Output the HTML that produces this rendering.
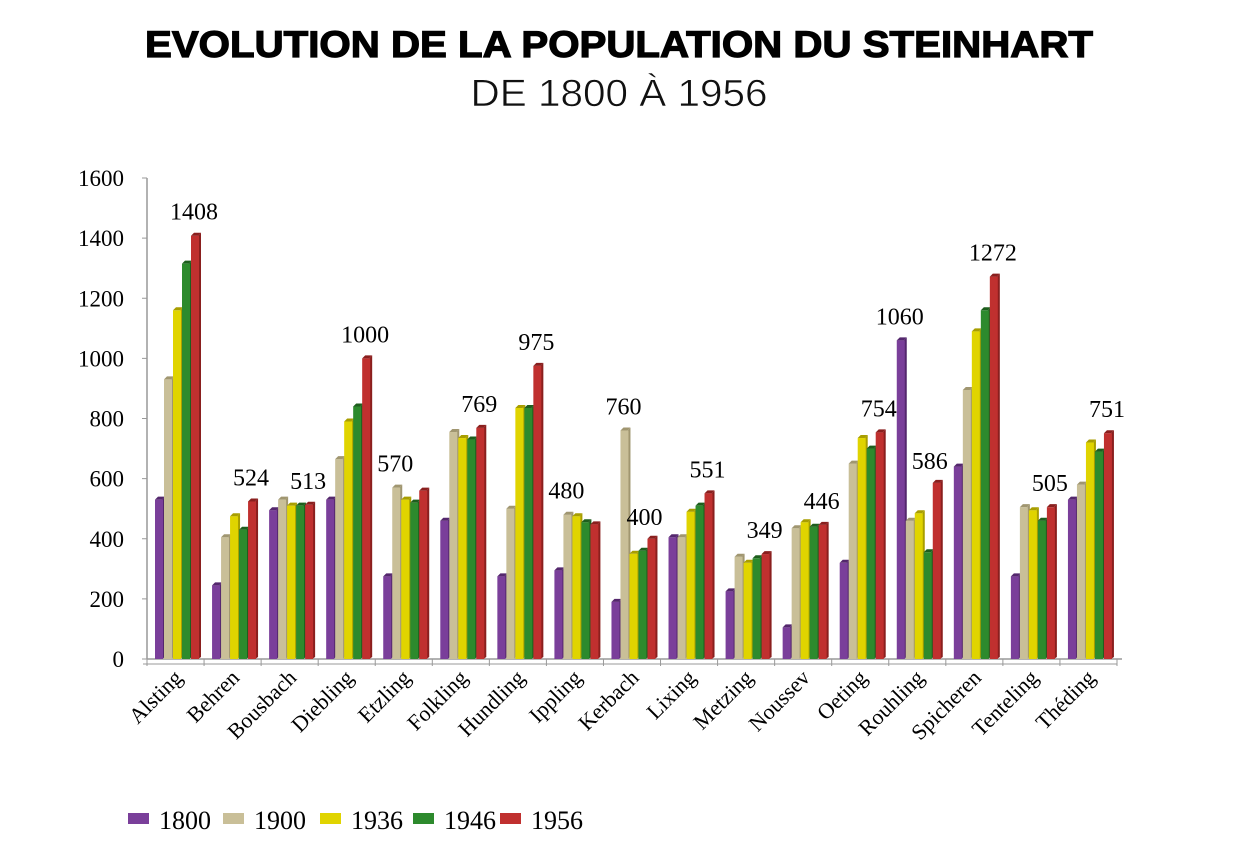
<!DOCTYPE html>
<html><head><meta charset="utf-8">
<style>
html,body{margin:0;padding:0;background:#fff;}
svg{display:block;}
</style></head>
<body>
<svg id="chart" width="1239" height="857" viewBox="0 0 1239 857" xmlns="http://www.w3.org/2000/svg">
<text x="619" y="57" text-anchor="middle" font-family="Liberation Sans, sans-serif" font-weight="bold" font-size="37" textLength="948" lengthAdjust="spacingAndGlyphs" fill="#000" stroke="#000" stroke-width="1.2">EVOLUTION DE LA POPULATION DU STEINHART</text>
<text x="619" y="106" text-anchor="middle" font-family="Liberation Sans, sans-serif" font-size="38" textLength="297" lengthAdjust="spacingAndGlyphs" fill="#111" stroke="#fff" stroke-width="0.6">DE 1800 À 1956</text>
<g id="plot"></g>
</svg>
<script>
const categories = ["Alsting","Behren","Bousbach","Diebling","Etzling","Folkling","Hundling","Ippling","Kerbach","Lixing","Metzing","Noussev","Oeting","Rouhling","Spicheren","Tenteling","Théding"];
const seriesNames = ["1800","1900","1936","1946","1956"];
const s1800 = [530,245,495,530,275,460,275,295,190,405,225,105,320,1060,640,275,530];
const s1900 = [930,405,530,665,570,755,500,480,760,405,340,435,650,460,895,505,580];
const s1936 = [1160,475,510,790,530,735,835,475,350,490,320,455,735,485,1090,495,720];
const s1946 = [1315,430,510,840,520,730,835,455,360,510,335,440,700,355,1160,460,690];
const s1956 = [1408,524,513,1000,560,769,975,448,400,551,349,446,754,586,1272,505,751];
const labelValues = [1408,524,513,1000,570,769,975,480,760,551,349,446,754,1060,1272,505,751];
const labelSeries = [4,4,4,4,1,4,4,1,1,4,4,4,4,0,4,4,4];
const extraLabels = [[8,4,400],[13,4,586]];
const yTicks = [0,200,400,600,800,1000,1200,1400,1600];

const NS = "http://www.w3.org/2000/svg";
const colors = ["#7a3f9a","#c9bf98","#e0d400","#2d8a2d","#c0302f"];
const sides = ["#54276d","#a09670","#a89e00","#1d5e1d","#8a1f1e"];
const series = [s1800,s1900,s1936,s1946,s1956];
const X0 = 147, X1 = 1117, Y0 = 659, Y1 = 178;
const groupW = (X1 - X0) / categories.length;
const barW = 9;
function y(v){ return Y0 - (v/1600)*(Y0-Y1); }
function gx(i){ return X0 + i*groupW; }
function bx(i,s){ return gx(i) + 8 + s*barW; }
const plot = document.getElementById('plot');
function mk(tag, attrs){ const e=document.createElementNS(NS,tag); for(const k in attrs) e.setAttribute(k,attrs[k]); plot.appendChild(e); return e; }

let ax = mk('line',{x1:X0,y1:Y1,x2:X0,y2:Y0,stroke:'#999','stroke-width':1.5});


let bx0 = mk('line',{x1:X0,y1:Y0,x2:X1+5,y2:Y0,stroke:'#999','stroke-width':1.5});


let bx1 = mk('line',{x1:X0-4,y1:Y0+5,x2:X1,y2:Y0+5,stroke:'#999','stroke-width':1});


yTicks.forEach(t=>{
  const tk = mk('line',{x1:X0-5,y1:y(t),x2:X0,y2:y(t),stroke:'#999','stroke-width':1});
  
  
  const tx = mk('text',{x:124,y:y(t)+8,'text-anchor':'end','font-family':'Liberation Serif, serif','font-size':23,fill:'#000'});
  tx.textContent = t;
  
  
});
for(let i=0;i<=categories.length;i++){
  const tk = mk('line',{x1:gx(i),y1:Y0,x2:gx(i),y2:Y0+7,stroke:'#999','stroke-width':1});
  
  
}
categories.forEach((c,i)=>{
  series.forEach((arr,s)=>{
    const v = arr[i], x = bx(i,s), top = y(v);
    const side = mk('polygon',{points:`${x+barW-2},${top} ${x+barW+1},${top-3} ${x+barW+1},${Y0-2} ${x+barW-2},${Y0}`,fill:sides[s]});
    
    
    const r = mk('rect',{x:x,y:top,width:barW-1,height:Y0-top,fill:colors[s]});
    
    
    const cap = mk('polygon',{points:`${x},${top} ${x+3},${top-3} ${x+barW+1},${top-3} ${x+barW-2},${top}`,fill:sides[s]});
    
    
  });
  const ls = labelSeries[i];
  const lt = mk('text',{x:bx(i,ls)+3,y:y(labelValues[i])-16,'text-anchor':'middle','font-family':'Liberation Serif, serif','font-size':24,fill:'#000'});
  lt.textContent = labelValues[i];
  
  
  const cx = gx(i) + groupW/2 + 8;
  const cl = mk('text',{x:cx,y:Y0+20,'text-anchor':'end','font-family':'Liberation Serif, serif','font-size':22,fill:'#000',transform:`rotate(-45 ${cx} ${Y0+20})`});
  cl.textContent = c;
  
  
});
extraLabels.forEach(e=>{
  const lt = mk('text',{x:bx(e[0],e[1])-3,y:y(e[2])-14,'text-anchor':'middle','font-family':'Liberation Serif, serif','font-size':24,fill:'#000'});
  lt.textContent = e[2];
  
  
});
const legX = [128,223,320,413,500];
seriesNames.forEach((n,s)=>{
  const sq = mk('rect',{x:legX[s],y:813,width:21,height:11,fill:colors[s]});
  
  
  const t = mk('text',{x:legX[s]+31,y:829,'font-family':'Liberation Serif, serif','font-size':26,fill:'#000'});
  t.textContent = n;
  
  
});
</script>
</body></html>
